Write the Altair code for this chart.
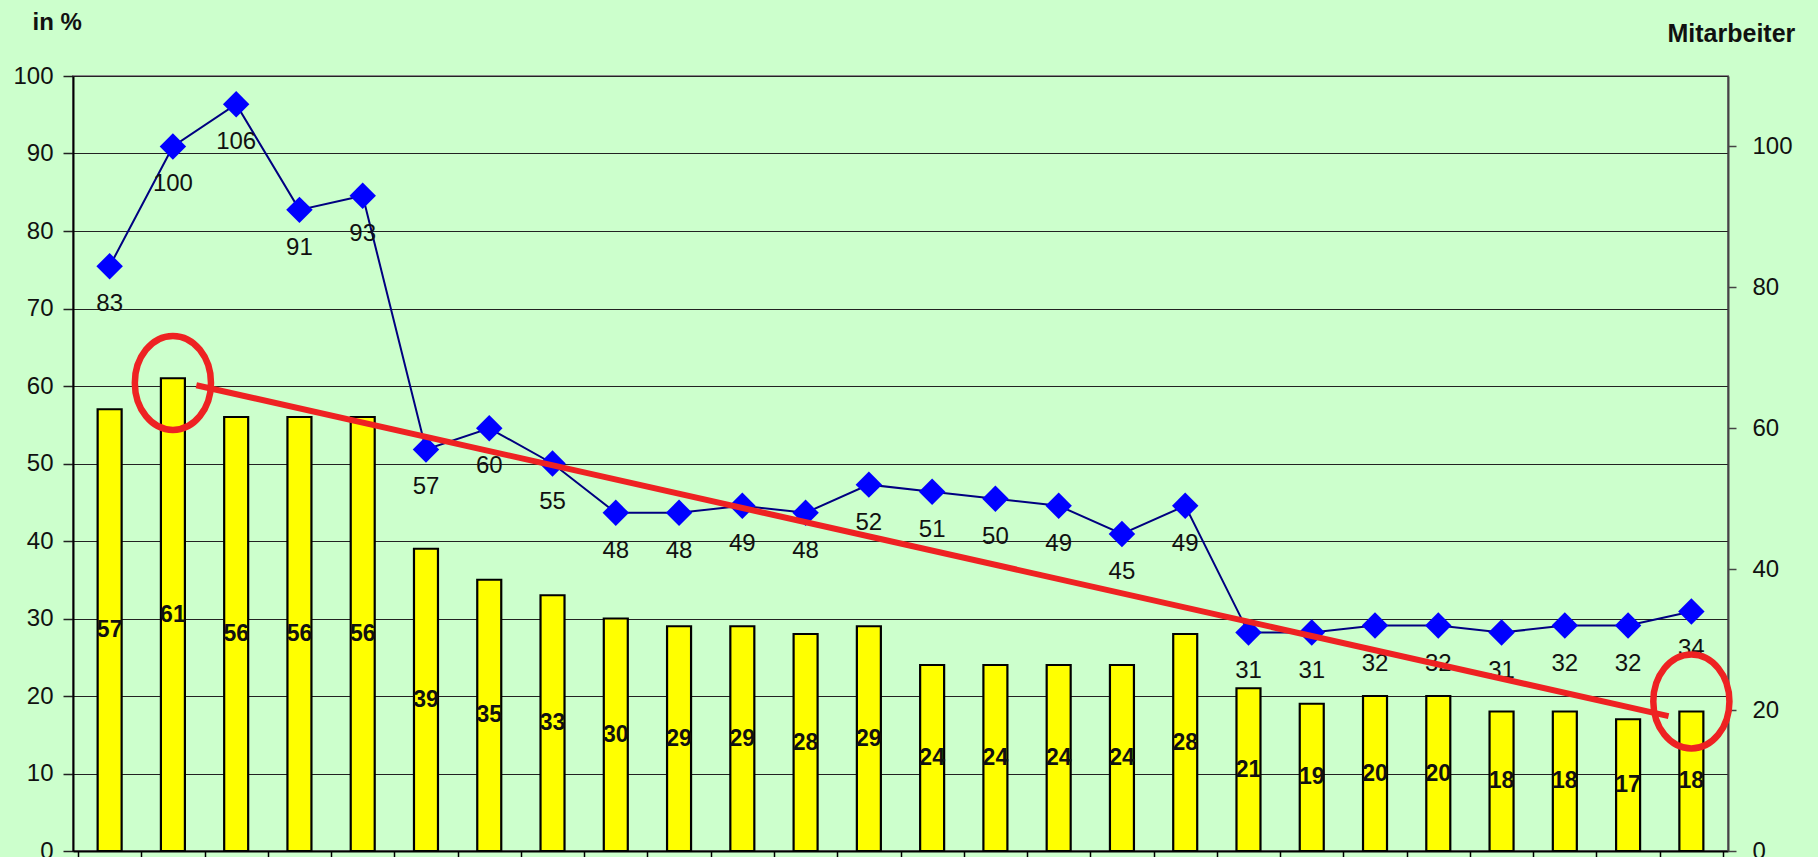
import altair as alt
import pandas as pd

# --- data ---
idx = list(range(1, 27))
quote = [57, 61, 56, 56, 56, 39, 35, 33, 30, 29, 29, 28, 29,
         24, 24, 24, 24, 28, 21, 19, 20, 20, 18, 18, 17, 18]
mitarbeiter = [83, 100, 106, 91, 93, 57, 60, 55, 48, 48, 49, 48, 52,
               51, 50, 49, 45, 49, 31, 31, 32, 32, 31, 32, 32, 34]

# red annotation (trend line and circles), in category index / left-axis units
trend_x = [2.37, 25.64]
trend_y = [60.1, 17.4]
circle_x = [2, 26]
circle_y = [60.4, 19.3]

left_ticks = list(range(0, 101, 10))
right_ticks = list(range(0, 101, 20))
x_ticks = [k + 0.5 for k in range(27)]

FONT = "Liberation Sans"
BG = "#CCFFCC"

df = pd.DataFrame({"idx": idx, "quote": quote, "ma": mitarbeiter})
df["half"] = df["quote"] / 2
trend_df = pd.DataFrame({"x": [trend_x[0]], "x2": [trend_x[1]],
                         "y": [trend_y[0]], "y2": [trend_y[1]]})
circ_df = pd.DataFrame({"x": circle_x, "y": circle_y})

xscale = alt.Scale(domain=[0.5, 26.5], nice=False, zero=False)
xenc = alt.X("idx:Q", scale=xscale,
             axis=alt.Axis(values=x_ticks, labels=False, title=None, grid=False,
                           tickSize=14, tickColor="black", tickWidth=1.5,
                           domainColor="black", domainWidth=2))

yleft_scale = alt.Scale(domain=[0, 100], nice=False)
yright_scale = alt.Scale(domain=[0, 110], nice=False)

base = alt.Chart(df)

bars = base.mark_bar(size=24, color="#FFFF00", stroke="black", strokeWidth=2.2).encode(
    x=xenc,
    y=alt.Y("quote:Q", scale=yleft_scale,
            axis=alt.Axis(values=left_ticks, title="in %", titleAngle=0,
                          titleAlign="left", titleBaseline="alphabetic",
                          titleX=-41, titleY=-47, titleFontSize=24,
                          titleFontWeight="bold", titleFont=FONT, titleColor="#111",
                          labelFontSize=24, labelFont=FONT, labelColor="#111",
                          labelPadding=10, tickSize=10, tickColor="#222",
                          tickWidth=1.5, domainColor="black", domainWidth=2,
                          grid=True, gridColor="#222", gridWidth=1.2)),
)
bar_labels = base.mark_text(fontSize=23, fontWeight="bold", font=FONT,
                            color="#111", baseline="middle").encode(
    x=alt.X("idx:Q", scale=xscale),
    y=alt.Y("half:Q", scale=yleft_scale),
    text="quote:Q",
)
left = alt.layer(bars, bar_labels)

yr = alt.Y("ma:Q", scale=yright_scale,
           axis=alt.Axis(orient="right", values=right_ticks, title="Mitarbeiter",
                         titleAngle=0, titleAlign="left", titleBaseline="alphabetic",
                         titleX=-61, titleY=-35, titleFontSize=25,
                         titleFontWeight="bold", titleFont=FONT, titleColor="#111",
                         labelFontSize=24, labelFont=FONT, labelColor="#111",
                         labelPadding=16, tickSize=8, tickColor="#444",
                         tickWidth=1.5, domainColor="#444", domainWidth=2,
                         grid=False))
line = base.mark_line(color="#000080", strokeWidth=2).encode(
    x=alt.X("idx:Q", scale=xscale), y=yr)
points = base.mark_point(shape="diamond", filled=True, color="#0000FF",
                         size=700, opacity=1).encode(
    x=alt.X("idx:Q", scale=xscale), y=alt.Y("ma:Q", scale=yright_scale))
line_labels = base.mark_text(fontSize=24, font=FONT, color="#111",
                             baseline="middle", dy=38).encode(
    x=alt.X("idx:Q", scale=xscale), y=alt.Y("ma:Q", scale=yright_scale),
    text="ma:Q")
right = alt.layer(line, points, line_labels)

a, k = 0.81, 0.5523
ak = a * k
ellipse = (f"M {-a},0 C {-a},{-k} {-ak},-1 0,-1 C {ak},-1 {a},{-k} {a},0 "
           f"C {a},{k} {ak},1 0,1 C {-ak},1 {-a},{k} {-a},0 Z")

trend = alt.Chart(trend_df).mark_rule(color="#EE2222", strokeWidth=6).encode(
    x=alt.X("x:Q", scale=xscale), x2="x2:Q",
    y=alt.Y("y:Q", scale=yleft_scale, axis=None), y2="y2:Q")
circles = alt.Chart(circ_df).mark_point(shape=ellipse, size=8836, filled=False,
                                        color="#EE2222", strokeWidth=6.5,
                                        opacity=1).encode(
    x=alt.X("x:Q", scale=xscale),
    y=alt.Y("y:Q", scale=yleft_scale, axis=None))
red = alt.layer(trend, circles)

chart = alt.layer(left, right, red).resolve_scale(y="independent").properties(
    width=1655, height=775,
    autosize=alt.AutoSizeParams(type="none"),
    padding={"left": 73, "top": 76, "right": 90, "bottom": 6},
    background=BG,
).configure_view(fill=BG, stroke="#888", strokeWidth=2)

chart.save("out.html", embed_options={"renderer": "svg", "actions": False})
